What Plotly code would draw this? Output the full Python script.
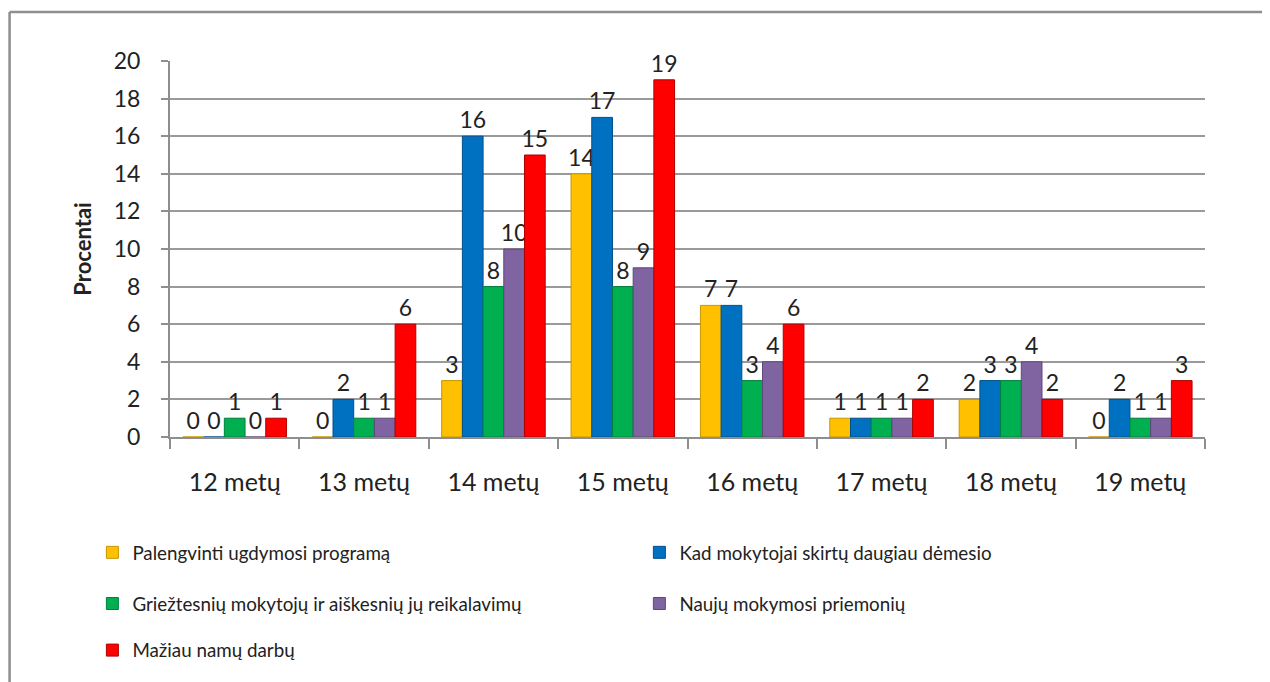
import plotly.graph_objects as go

categories = ["12 metų", "13 metų", "14 metų", "15 metų", "16 metų", "17 metų", "18 metų", "19 metų"]
series_names = [
    "Palengvinti ugdymosi programą",
    "Kad mokytojai skirtų daugiau dėmesio",
    "Griežtesnių mokytojų ir aiškesnių jų reikalavimų",
    "Naujų mokymosi priemonių",
    "Mažiau namų darbų",
]
palengvinti = [0, 0, 3, 14, 7, 1, 2, 0]
demesio = [0, 2, 16, 17, 7, 1, 3, 2]
grieztesniu = [1, 1, 8, 8, 3, 1, 3, 1]
nauju = [0, 1, 10, 9, 4, 1, 4, 1]
maziau = [1, 6, 15, 19, 6, 2, 2, 3]
y_ticks = [0, 2, 4, 6, 8, 10, 12, 14, 16, 18, 20]

series_values = [palengvinti, demesio, grieztesniu, nauju, maziau]
colors = ["#FFC000", "#0070C0", "#00B050", "#8064A2", "#FF0000"]
edge = ["#C79600", "#00508C", "#00803C", "#5C4878", "#B00000"]
legend_ids = ["legend", "legend", "legend2", "legend2", "legend3"]

FONT = "Lato, Carlito, Calibri, sans-serif"

fig = go.Figure()
for name, vals, c, e, lg in zip(series_names, series_values, colors, edge, legend_ids):
    fig.add_trace(go.Bar(
        x=categories, y=vals, name=name,
        marker=dict(color=c, line=dict(color=e, width=1)),
        text=[str(v) for v in vals], textposition="outside",
        textfont=dict(size=23, color="#222222", family=FONT),
        constraintext="none", cliponaxis=False,
        legend=lg,
    ))

leg_common = dict(orientation="h", xanchor="left", yanchor="top",
                  font=dict(size=18.8, color="#222222", family=FONT),
                  entrywidth=502, entrywidthmode="pixels",
                  bgcolor="rgba(0,0,0,0)", itemwidth=30)

frame = dict(color="#8E8E8E", width=2.5)

fig.update_layout(
    width=1262, height=674,
    paper_bgcolor="white", plot_bgcolor="white",
    margin=dict(l=162, r=65, t=53, b=245),
    barmode="group", bargap=0.2, bargroupgap=0,
    font=dict(family=FONT, size=18, color="#222222"),
    xaxis=dict(
        type="category", showline=True, linecolor="#8E8E8E", linewidth=2,
        ticks="outside", tickson="boundaries", ticklen=10, tickcolor="#8E8E8E", tickwidth=2,
        tickfont=dict(size=25, family=FONT, color="#222222"),
        ticklabelstandoff=22, showgrid=False,
    ),
    yaxis=dict(
        range=[0, 20], tickvals=y_ticks, showline=True, linecolor="#8E8E8E", linewidth=2,
        ticks="outside", ticklen=7, tickcolor="#8E8E8E", tickwidth=2,
        tickfont=dict(size=23, family=FONT, color="#222222"),
        ticklabelstandoff=16,
        showgrid=True, gridcolor="#9A9A9A", gridwidth=2, zeroline=False,
        title=dict(text="<b>Procentai</b>", font=dict(size=22, family=FONT), standoff=16),
    ),
    legend=dict(x=-0.075, y=-0.257, **leg_common),
    legend2=dict(x=-0.075, y=-0.393, **leg_common),
    legend3=dict(x=-0.075, y=-0.517, **leg_common),
    shapes=[
        dict(type="line", xref="paper", yref="paper",
             x0=-0.1550, x1=-0.1550, y0=-0.8, y1=1.130, line=frame),
        dict(type="line", xref="paper", yref="paper",
             x0=-0.1550, x1=1.3, y0=1.130, y1=1.130, line=frame),
    ],
)

fig.write_html("out.html")
